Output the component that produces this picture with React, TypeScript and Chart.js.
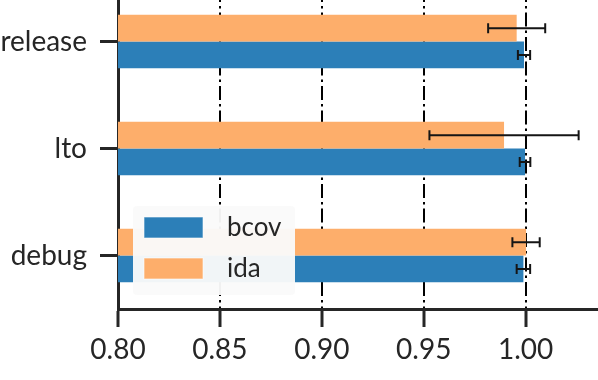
import React, { useEffect, useRef } from 'react';
import { Chart, registerables } from 'chart.js';

Chart.register(...registerables);

const categories = ['release', 'lto', 'debug'];
const seriesNames = ['bcov', 'ida'];
const bcovValues = [0.9992, 0.9997, 0.9989];
const bcovErrors = [0.003, 0.0026, 0.0033];
const idaValues = [0.9956, 0.9894, 1.0002];
const idaErrors = [0.014, 0.0366, 0.0067];
const xTicks = [0.8, 0.85, 0.9, 0.95, 1.0];
const xMin = 0.8;
const xMax = 1.0355;

const BLUE = '#2c7fb8';
const ORANGE = '#fdae6b';
const DARK = '#262626';
const FONT = 'Lato';

const errorBarPlugin = {
  id: 'errorBars',
  afterDatasetsDraw(chart: any) {
    const { ctx } = chart;
    const xScale = chart.scales.x;
    chart.data.datasets.forEach((ds: any, i: number) => {
      const meta = chart.getDatasetMeta(i);
      meta.data.forEach((bar: any, j: number) => {
        const v = ds.data[j];
        const e = ds.errors[j];
        const x1 = xScale.getPixelForValue(v - e);
        const x2 = xScale.getPixelForValue(v + e);
        const y = bar.y;
        ctx.save();
        ctx.strokeStyle = '#151515';
        ctx.lineWidth = 2;
        ctx.beginPath();
        ctx.moveTo(x1, y);
        ctx.lineTo(x2, y);
        ctx.moveTo(x1, y - 5);
        ctx.lineTo(x1, y + 5);
        ctx.moveTo(x2, y - 5);
        ctx.lineTo(x2, y + 5);
        ctx.stroke();
        ctx.restore();
      });
    });
  },
};

const legendPlugin = {
  id: 'insideLegend',
  afterDraw(chart: any) {
    const { ctx, chartArea } = chart;
    const bx = chartArea.left + 15;
    const by = chartArea.bottom - 103;
    const bw = 162;
    const bh = 89;
    ctx.save();
    ctx.fillStyle = 'rgba(250,250,250,0.96)';
    ctx.beginPath();
    ctx.roundRect(bx, by, bw, bh, 4);
    ctx.fill();
    const entries = seriesNames.map((name) => {
      const ds = chart.data.datasets.find((d: any) => d.label === name);
      return { name, color: ds.backgroundColor };
    });
    entries.forEach((en, k) => {
      const py = by + 11 + k * 41;
      ctx.fillStyle = en.color;
      ctx.fillRect(bx + 11, py, 59, 21);
      ctx.strokeStyle = 'rgba(255,255,255,0.6)';
      ctx.lineWidth = 1;
      ctx.strokeRect(bx + 11, py, 59, 21);
      ctx.fillStyle = DARK;
      ctx.font = `26px ${FONT}`;
      ctx.textBaseline = 'middle';
      ctx.textAlign = 'left';
      ctx.fillText(en.name, bx + 94, py + 11);
    });
    ctx.restore();
  },
};

export default function App() {
  const ref = useRef<HTMLCanvasElement | null>(null);

  useEffect(() => {
    if (!ref.current) return;
    const chart = new Chart(ref.current, {
      type: 'bar',
      data: {
        labels: categories,
        datasets: [
          {
            label: 'ida',
            data: idaValues,
            errors: idaErrors,
            backgroundColor: ORANGE,
            borderWidth: 0,
          } as any,
          {
            label: 'bcov',
            data: bcovValues,
            errors: bcovErrors,
            backgroundColor: BLUE,
            borderWidth: 0,
          } as any,
        ],
      },
      options: {
        indexAxis: 'y',
        responsive: false,
        animation: false,
        layout: { padding: 0 },
        datasets: { bar: { categoryPercentage: 0.5, barPercentage: 1.0 } },
        plugins: {
          legend: { display: false },
          tooltip: { enabled: false },
        },
        scales: {
          x: {
            type: 'linear',
            min: xMin,
            max: xMax,
            afterBuildTicks: (scale: any) => {
              scale.ticks = xTicks.map((v) => ({ value: v }));
            },
            afterFit: (scale: any) => {
              scale.height = 71;
              scale.paddingLeft = 0;
              scale.paddingRight = 0;
            },
            grid: {
              color: (c: any) => (c.tick && Math.abs(c.tick.value - xMin) < 1e-9 ? 'rgba(0,0,0,0)' : '#000'),
              lineWidth: 2,
              tickColor: DARK,
              tickWidth: 3,
              tickLength: 18,
              drawTicks: true,
            },
            border: { display: true, color: DARK, width: 3, dash: [14, 4, 2.5, 4] },
            ticks: {
              font: { family: FONT, size: 28 },
              color: DARK,
              padding: 6,
              maxRotation: 0,
              autoSkip: false,
              callback: (v: any) => Number(v).toFixed(2),
            },
          },
          y: {
            type: 'category',
            afterFit: (scale: any) => {
              scale.width = 118;
              scale.paddingTop = 0;
              scale.paddingBottom = 0;
            },
            grid: {
              offset: false,
              drawOnChartArea: false,
              drawTicks: true,
              tickLength: 18,
              tickWidth: 3,
              tickColor: DARK,
            },
            border: { display: true, color: DARK, width: 3 },
            ticks: {
              font: { family: FONT, size: 28 },
              color: DARK,
              padding: 13,
            },
          },
        },
      },
      plugins: [errorBarPlugin, legendPlugin],
    });
    return () => chart.destroy();
  }, []);

  return (
    <div style={{ position: 'fixed', left: 0, top: -12, width: 598, height: 392 }}>
      <canvas ref={ref} width={598} height={392} style={{ display: 'block' }} />
    </div>
  );
}
